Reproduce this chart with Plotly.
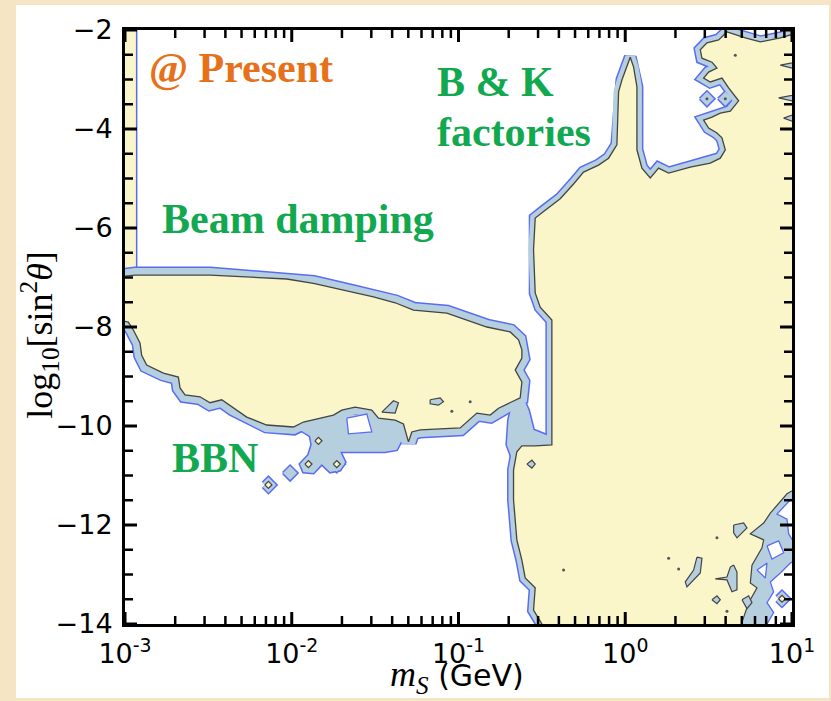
import plotly.graph_objects as go

# ---------------- data (x = log10 m_S [GeV], y = log10 sin^2 theta) ----------------
XTICK_VALS = [1e-3, 1e-2, 1e-1, 1e0, 1e1]
XTICK_TEXT = ["10<sup>-3</sup>", "10<sup>-2</sup>", "10<sup>-1</sup>", "10<sup>0</sup>", "10<sup>1</sup>"]
YTICK_VALS = [-14, -12, -10, -8, -6, -4, -2]
YTICK_TEXT = ["\u221214", "\u221212", "\u221210", "\u22128", "\u22126", "\u22124", "\u22122"]

# thin allowed strip along the left edge
STRIP = [(-3.04, -1.90), (-2.93, -1.90), (-2.93, -6.90), (-3.04, -6.90)]

# "Beam damping" allowed region (inner contour)
BEAM = [(-3.04, -6.99), (-2.98, -6.97), (-2.94, -6.95), (-2.49, -6.95), (-2.03, -7.03), (-1.87, -7.12),
        (-1.63, -7.31), (-1.51, -7.39), (-1.38, -7.51), (-1.27, -7.66), (-1.07, -7.72), (-0.83, -8.00),
        (-0.69, -8.10), (-0.64, -8.26), (-0.62, -8.46), (-0.62, -8.63), (-0.66, -8.87), (-0.62, -9.11),
        (-0.63, -9.43), (-0.68, -9.51), (-0.76, -9.64), (-0.81, -9.78), (-0.89, -9.74), (-0.99, -10.04),
        (-1.23, -10.08), (-1.28, -10.12), (-1.30, -10.32), (-1.33, -9.96), (-1.38, -9.88), (-1.48, -9.84),
        (-1.52, -9.68), (-1.62, -9.62), (-1.70, -9.68), (-1.75, -9.78), (-1.93, -9.92), (-1.99, -10.02),
        (-2.15, -9.98), (-2.27, -9.82), (-2.35, -9.64), (-2.42, -9.47), (-2.49, -9.53), (-2.55, -9.41),
        (-2.64, -9.37), (-2.67, -9.23), (-2.68, -9.01), (-2.77, -8.93), (-2.87, -8.77), (-2.90, -8.57),
        (-2.91, -8.32), (-2.95, -8.06), (-2.98, -7.90), (-3.04, -7.86)]

# "B & K factories" allowed region (inner contour)
RIGHT = [(0.61, -2.04), (0.72, -2.16), (0.81, -2.24), (0.93, -2.16), (1.05, -2.04), (1.05, -14.16),
         (-0.50, -14.16), (-0.50, -14.00), (-0.55, -13.72), (-0.54, -13.27), (-0.60, -13.07), (-0.62, -12.71),
         (-0.65, -12.30), (-0.67, -11.49), (-0.67, -10.89), (-0.65, -10.52), (-0.62, -10.40), (-0.54, -10.40),
         (-0.44, -10.38), (-0.44, -7.86), (-0.51, -7.60), (-0.54, -7.31), (-0.55, -6.44), (-0.54, -5.80),
         (-0.48, -5.64), (-0.39, -5.41), (-0.31, -5.11), (-0.25, -4.87), (-0.16, -4.73), (-0.10, -4.59),
         (-0.05, -4.32), (-0.04, -3.25), (-0.02, -3.01), (0.03, -2.55), (0.05, -2.75), (0.07, -3.15),
         (0.07, -4.42), (0.10, -4.79), (0.15, -4.99), (0.20, -4.79), (0.26, -4.89), (0.39, -4.77),
         (0.51, -4.69), (0.57, -4.59), (0.60, -4.42), (0.58, -4.18), (0.55, -4.08), (0.50, -3.98),
         (0.47, -3.82), (0.52, -3.76), (0.57, -3.68), (0.63, -3.64), (0.68, -3.43), (0.62, -3.17),
         (0.58, -2.97), (0.51, -3.05), (0.47, -2.97), (0.50, -2.85), (0.55, -2.77), (0.52, -2.65),
         (0.46, -2.57), (0.45, -2.40), (0.49, -2.26), (0.56, -2.20)]

# band-only patches (outer contour, no inner region)
BBN_PATCH = [(-1.98, -9.96), (-1.74, -9.76), (-1.47, -9.80), (-1.35, -9.88), (-1.34, -10.28), (-1.37, -10.48),
             (-1.44, -10.52), (-1.71, -10.52), (-1.68, -10.73), (-1.71, -10.89), (-1.77, -10.93), (-1.82, -10.77),
             (-1.87, -10.95), (-1.93, -10.93), (-1.95, -10.77), (-1.90, -10.59), (-1.88, -10.38), (-1.89, -10.20),
             (-1.95, -10.08)]
CONN_PATCH = [(-0.62, -9.37), (-0.58, -9.68), (-0.55, -10.08), (-0.46, -10.20), (-0.44, -10.48),
              (-0.68, -10.65), (-0.71, -10.38), (-0.70, -9.88), (-0.68, -9.58)]

# small diamond-shaped islands (centres)
YELLOW_DIAMONDS = [(-1.84, -10.30), (-1.90, -10.77), (-1.73, -10.77), (-2.14, -11.19)]
BLUE_DIAMONDS = [(-2.01, -10.95), (0.49, -3.39), (0.60, -3.39)]
CORNER_DIAMOND = (0.94, -13.49)

# band islands inside allowed regions
ISLANDS = [
    [(-1.46, -9.72), (-1.39, -9.49), (-1.36, -9.53), (-1.38, -9.74)],
    [(-1.17, -9.47), (-1.11, -9.43), (-1.09, -9.51), (-1.12, -9.58), (-1.17, -9.55)],
    [(1.05, -11.21), (0.97, -11.37), (0.87, -11.76), (0.83, -11.96), (0.75, -12.18), (0.83, -12.30),
     (0.82, -12.46), (0.76, -12.81), (0.75, -13.17), (0.79, -13.27), (0.74, -13.57), (0.70, -13.96),
     (0.70, -14.16), (1.05, -14.16)],
    [(0.65, -12.00), (0.71, -11.96), (0.73, -12.06), (0.67, -12.26), (0.65, -12.16)],
    [(0.43, -12.65), (0.46, -12.67), (0.45, -12.97), (0.37, -13.25), (0.36, -13.15), (0.41, -12.91)],
    [(0.65, -12.81), (0.67, -12.95), (0.67, -13.31), (0.64, -13.35), (0.61, -13.11), (0.54, -13.09),
     (0.61, -13.05), (0.63, -12.85)],
    [(0.52, -13.51), (0.55, -13.43), (0.57, -13.51), (0.55, -13.59)],
    [(0.70, -13.51), (0.74, -13.43), (0.76, -13.57), (0.73, -13.69)],
    [(1.05, -2.63), (0.93, -2.71), (1.05, -2.81)],
    [(1.05, -3.29), (0.92, -3.37), (1.05, -3.47)],
    [(1.05, -3.66), (0.95, -3.78), (1.05, -3.90)],
    [(-0.59, -10.77), (-0.56, -10.69), (-0.54, -10.77), (-0.56, -10.85)],
]

# excluded holes
HOLES = [
    [(1.05, -11.43), (0.99, -11.49), (0.91, -11.78), (0.97, -11.88), (0.98, -12.18), (1.02, -12.40), (1.05, -12.40)],
    [(0.85, -12.42), (0.92, -12.32), (0.95, -12.56), (0.88, -12.69)],
    [(0.79, -12.91), (0.85, -12.77), (0.84, -13.07)],
    [(1.05, -12.63), (0.99, -12.77), (0.93, -12.97), (0.87, -13.15), (0.89, -13.35), (0.85, -13.57),
     (0.89, -13.77), (0.85, -14.00), (0.87, -14.16), (1.05, -14.16)],
    [(-1.67, -9.84), (-1.55, -9.76), (-1.52, -10.12), (-1.66, -10.16)],
]

DOTS = [(-0.93, -9.51), (-1.04, -9.70), (-0.37, -12.91), (0.26, -12.67), (0.32, -12.89), (0.55, -12.26),
        (0.61, -13.74), (0.66, -2.51), (0.49, -3.39), (0.60, -3.39)]

# minor tick positions (axis decoration)
XMINOR = [d * 10 ** e for e in range(-3, 1) for d in range(2, 10)]
YMINOR = [v / 2 for v in range(-27, -4) if v % 4 != 0]

# ---------------- style ----------------
YELLOW = "#faf6ca"
BAND = "#b5cfdf"
BLUE = "#5a6cf2"
DARK = "#444444"
GREEN = "#12a84f"
ORANGE = "#e6711a"
PX_PER_DEC = 166.75
PX_PER_UNIT = 49.5
X_RANGE = [-3, 1]
Y_RANGE = [-14, -2]

fig = go.Figure()


def closed(pairs):
    xs = [10 ** p[0] for p in pairs] + [10 ** pairs[0][0]]
    ys = [p[1] for p in pairs] + [pairs[0][1]]
    return xs, ys


def stroke(pairs, color, width):
    xs, ys = closed(pairs)
    fig.add_trace(go.Scatter(x=xs, y=ys, mode="lines", line=dict(color=color, width=width),
                             hoverinfo="skip", showlegend=False))


def filled(pairs, fillcolor, linecolor, width):
    xs, ys = closed(pairs)
    fig.add_trace(go.Scatter(x=xs, y=ys, mode="lines", fill="toself", fillcolor=fillcolor,
                             line=dict(color=linecolor, width=width),
                             hoverinfo="skip", showlegend=False))


def diamond(c, half_px):
    hx = half_px / PX_PER_DEC
    hy = half_px / PX_PER_UNIT
    return [(c[0] - hx, c[1]), (c[0], c[1] + hy), (c[0] + hx, c[1]), (c[0], c[1] - hy)]


regions = [(BEAM, 14), (RIGHT, 10)] + [(diamond(c, 3.5), 6) for c in YELLOW_DIAMONDS]
patches = [BBN_PATCH, CONN_PATCH] + [diamond(c, 7) for c in BLUE_DIAMONDS]

# phase A: outer (blue) contour lines
filled(STRIP, YELLOW, BLUE, 1.5)
for poly, w in regions:
    stroke(poly, BLUE, w + 3)
for poly in patches:
    stroke(poly, BLUE, 3)
# phase B: band between contours
for poly, w in regions:
    stroke(poly, BAND, w)
for poly in patches:
    filled(poly, BAND, BAND, 0)
# phase C: allowed regions (inner contour)
for poly, w in regions:
    filled(poly, YELLOW, DARK, 1.3)
# phase D: band islands
for poly in ISLANDS:
    filled(poly, BAND, DARK, 1.2)
# phase E: excluded holes
for poly in HOLES:
    filled(poly, "white", BLUE, 1.3)
# phase F: small island inside the corner hole
cd = diamond(CORNER_DIAMOND, 3.5)
stroke(cd, BLUE, 9)
stroke(cd, BAND, 6)
filled(cd, YELLOW, DARK, 1.2)
# phase G: tiny dots
fig.add_trace(go.Scatter(x=[10 ** d[0] for d in DOTS], y=[d[1] for d in DOTS], mode="markers",
                         marker=dict(size=3, color="#555555"), hoverinfo="skip", showlegend=False))


# ---------------- inward tick marks on all four sides (drawn on top of the regions) ----------------
def tick_trace(xvals, yvals, length_px, width):
    xs, ys = [], []
    dx = length_px / PX_PER_DEC
    dy = length_px / PX_PER_UNIT
    for v in xvals:
        xs += [v, v, None, v, v, None]
        ys += [Y_RANGE[0], Y_RANGE[0] + dy, None, Y_RANGE[1] - dy, Y_RANGE[1], None]
    for v in yvals:
        xs += [10 ** X_RANGE[0], 10 ** (X_RANGE[0] + dx), None, 10 ** (X_RANGE[1] - dx), 10 ** X_RANGE[1], None]
        ys += [v, v, None, v, v, None]
    fig.add_trace(go.Scatter(x=xs, y=ys, mode="lines", line=dict(color="black", width=width),
                             hoverinfo="skip", showlegend=False, connectgaps=False))


tick_trace(XMINOR, YMINOR, 8, 2.5)
tick_trace(XTICK_VALS, YTICK_VALS, 12, 3)

# ---------------- layout ----------------
label_font = dict(family="Liberation Serif", size=42)
annotations = [
    dict(x=-2.87, y=-2.77, text="<b>@ Present</b>", font=dict(color=ORANGE, **label_font)),
    dict(x=-1.14, y=-3.06, text="<b>B &amp; K</b>", font=dict(color=GREEN, **label_font)),
    dict(x=-1.14, y=-4.06, text="<b>factories</b>", font=dict(color=GREEN, **label_font)),
    dict(x=-2.79, y=-5.82, text="<b>Beam damping</b>", font=dict(color=GREEN, **label_font)),
    dict(x=-2.73, y=-10.64, text="<b>BBN</b>", font=dict(color=GREEN, **label_font)),
]
for a in annotations:
    a.update(xref="x", yref="y", xanchor="left", yanchor="middle", showarrow=False)

annotations.append(dict(xref="paper", yref="paper", x=-0.128, y=0.4865, textangle=-90,
                        text="log<sub>10</sub>[sin<sup>2</sup><i>\u03b8</i>]", showarrow=False,
                        xanchor="center", yanchor="middle",
                        font=dict(family="Liberation Serif", size=36, color="black")))
annotations.append(dict(xref="paper", yref="paper", x=0.498, y=-0.088,
                        text='<span style="font-family:Liberation Serif;font-size:36px"><i>m</i><sub><i>S</i></sub></span> (GeV)',
                        showarrow=False, xanchor="center", yanchor="middle",
                        font=dict(family="DejaVu Sans", size=30, color="black")))

tick_font = dict(family="DejaVu Sans", size=27, color="black")
common = dict(showline=True, linecolor="black", linewidth=3, mirror=True, ticks="",
              showgrid=False, zeroline=False, tickmode="array", tickfont=tick_font)

fig.update_layout(
    width=831, height=701,
    margin=dict(l=125, r=39, t=30, b=77),
    paper_bgcolor="#f5e5c5",
    plot_bgcolor="white",
    annotations=annotations,
    shapes=[dict(type="rect", xref="paper", yref="paper", x0=-0.1634, x1=1.0555, y0=-0.1246, y1=1.0421,
                 fillcolor="white", line=dict(width=0), layer="below")],
    xaxis=dict(type="log", range=X_RANGE, tickvals=XTICK_VALS, ticktext=XTICK_TEXT, ticklabelstandoff=4,
               **common),
    yaxis=dict(range=Y_RANGE, tickvals=YTICK_VALS, ticktext=YTICK_TEXT, ticklabelstandoff=4, **common),
)

fig.write_html("out.html")
